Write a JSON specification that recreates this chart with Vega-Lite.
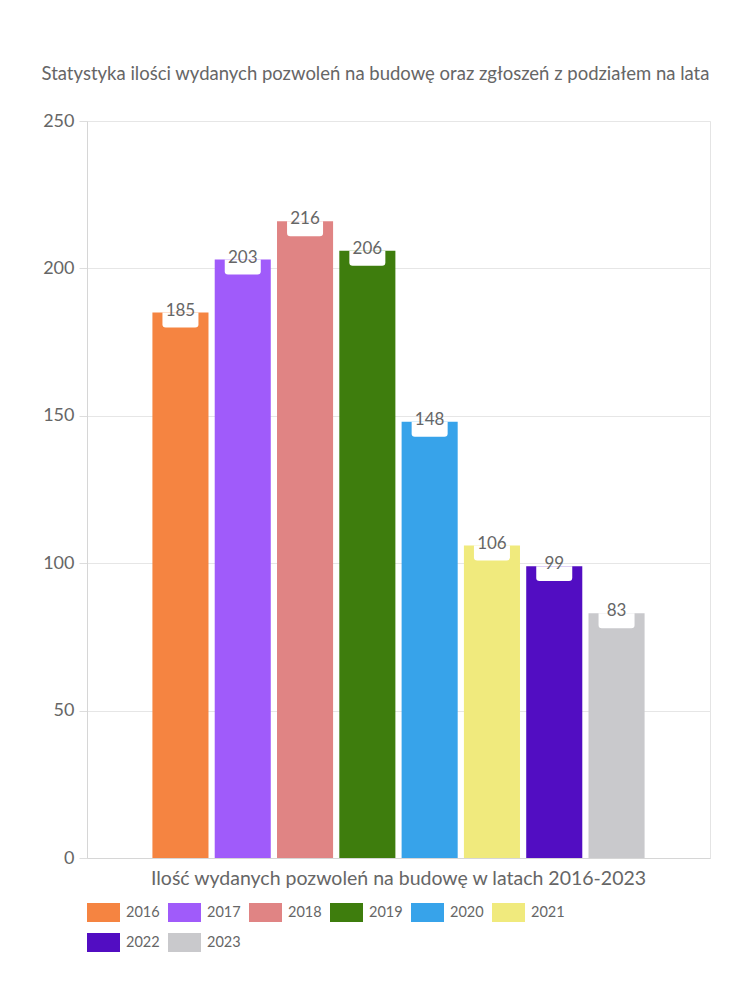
{
  "$schema": "https://vega.github.io/schema/vega-lite/v6.json",
  "autosize": "none",
  "width": 623,
  "height": 737,
  "padding": {"left": 87, "top": 121, "right": 40, "bottom": 142},
  "background": "white",
  "config": {
    "font": "Lato",
    "view": {"stroke": "#e4e4e4"}
  },
  "title": {
    "text": "Statystyka ilości wydanych pozwoleń na budowę oraz zgłoszeń z podziałem na lata",
    "fontSize": 18.5,
    "fontWeight": "normal",
    "color": "#666666",
    "anchor": "middle",
    "dx": -23,
    "offset": 10,
    "baseline": "bottom"
  },
  "data": {
    "values": [
      {"cat": "Ilość wydanych pozwoleń na budowę w latach 2016-2023", "rok": "2016", "ilosc": 185},
      {"cat": "Ilość wydanych pozwoleń na budowę w latach 2016-2023", "rok": "2017", "ilosc": 203},
      {"cat": "Ilość wydanych pozwoleń na budowę w latach 2016-2023", "rok": "2018", "ilosc": 216},
      {"cat": "Ilość wydanych pozwoleń na budowę w latach 2016-2023", "rok": "2019", "ilosc": 206},
      {"cat": "Ilość wydanych pozwoleń na budowę w latach 2016-2023", "rok": "2020", "ilosc": 148},
      {"cat": "Ilość wydanych pozwoleń na budowę w latach 2016-2023", "rok": "2021", "ilosc": 106},
      {"cat": "Ilość wydanych pozwoleń na budowę w latach 2016-2023", "rok": "2022", "ilosc": 99},
      {"cat": "Ilość wydanych pozwoleń na budowę w latach 2016-2023", "rok": "2023", "ilosc": 83}
    ]
  },
  "encoding": {
    "x": {
      "field": "cat",
      "type": "nominal",
      "scale": {"paddingInner": 0, "paddingOuter": 0.125},
      "axis": {
        "title": null,
        "labelAngle": 0,
        "labelFontSize": 19.5,
        "labelLimit": 0,
        "labelColor": "#666666",
        "labelPadding": 11,
        "ticks": false,
        "domainColor": "#d6d6d6",
        "grid": false
      }
    },
    "xOffset": {
      "field": "rok",
      "type": "nominal",
      "scale": {"paddingInner": 0.1, "paddingOuter": 0.05}
    },
    "y": {
      "field": "ilosc",
      "type": "quantitative",
      "scale": {"domain": [0, 250]},
      "axis": {
        "title": null,
        "values": [0, 50, 100, 150, 200, 250],
        "labelFontSize": 18,
        "labelColor": "#666666",
        "labelPadding": 5,
        "tickSize": 8,
        "tickColor": "#dddddd",
        "domainColor": "#d6d6d6",
        "gridColor": "#e6e6e6"
      }
    }
  },
  "layer": [
    {
      "mark": {"type": "bar"},
      "encoding": {
        "color": {
          "field": "rok",
          "type": "nominal",
          "scale": {
            "domain": ["2016", "2017", "2018", "2019", "2020", "2021", "2022", "2023"],
            "range": ["#f58441", "#a05bfa", "#e08484", "#3e7d0d", "#37a3ea", "#f0ea7d", "#520dc2", "#c9c9cc"]
          },
          "legend": {
            "title": null,
            "orient": "bottom",
            "direction": "horizontal",
            "columns": 6,
            "symbolType": "M-1,-0.575L1,-0.575L1,0.575L-1,0.575Z",
            "symbolSize": 1089,
            "symbolStrokeWidth": 0,
            "labelFontSize": 14.5,
            "labelColor": "#666666",
            "labelOffset": 6,
            "columnPadding": 8,
            "rowPadding": 4,
            "offset": 8
          }
        }
      }
    },
    {
      "mark": {
        "type": "point",
        "shape": "M-1,0L1,0L1,0.65Q1,0.83 0.82,0.83L-0.82,0.83Q-1,0.83 -1,0.65Z",
        "size": 1296,
        "filled": true,
        "color": "white",
        "opacity": 1,
        "strokeWidth": 0
      }
    },
    {
      "mark": {
        "type": "text",
        "fontSize": 17,
        "color": "#666666",
        "baseline": "middle",
        "dy": -2
      },
      "encoding": {"text": {"field": "ilosc", "type": "quantitative"}}
    }
  ]
}
